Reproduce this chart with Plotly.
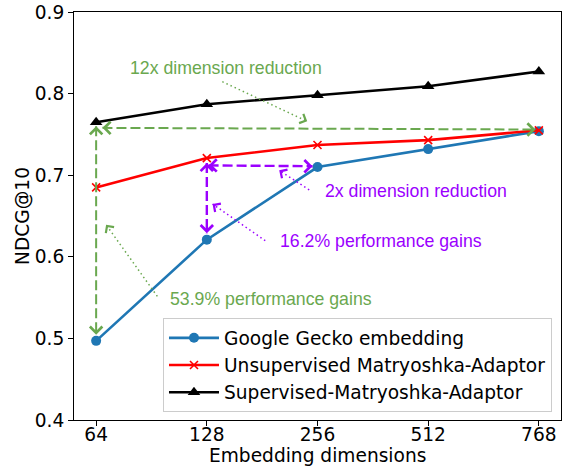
import plotly.graph_objects as go

dims = ["64", "128", "256", "512", "768"]
gecko = [0.497, 0.621, 0.710, 0.732, 0.754]
unsup = [0.685, 0.721, 0.737, 0.743, 0.755]
sup = [0.765, 0.787, 0.798, 0.809, 0.827]
yticks = [0.4, 0.5, 0.6, 0.7, 0.8, 0.9]

GREEN = "#6aa84f"
PURPLE = "#9b00ff"
FONT = "DejaVu Sans"
AFONT = "Liberation Sans"
FS = 18.6

xi = list(range(len(dims)))

fig = go.Figure()
fig.add_trace(go.Scatter(x=xi, y=gecko, mode="lines+markers", name="Google Gecko embedding",
                         line=dict(color="#1f77b4", width=2.6), legendgroup="a",
                         marker=dict(symbol="circle", size=10, color="#1f77b4")))
fig.add_trace(go.Scatter(x=xi, y=unsup, mode="lines+markers", name="Unsupervised Matryoshka-Adaptor",
                         line=dict(color="#ff0000", width=2.6), legendgroup="b",
                         marker=dict(symbol="x-thin", size=8, color="#ff0000",
                                     line=dict(color="#ff0000", width=1.6))))
fig.add_trace(go.Scatter(x=xi, y=sup, mode="lines+markers", name="Supervised-Matryoshka-Adaptor",
                         line=dict(color="#000000", width=2.6), legendgroup="c",
                         marker=dict(symbol="triangle-up", size=11, color="#000000")))

shapes = []
annotations = []


def dashed(x0, y0, x1, y1, color, width, dash):
    shapes.append(dict(type="line", xref="x", yref="y", x0=x0, y0=y0, x1=x1, y1=y1,
                       line=dict(color=color, width=width, dash=dash), layer="above"))


def head(x, y, ax, ay, color, width, size):
    annotations.append(dict(x=x, y=y, xref="x", yref="y", ax=ax, ay=ay, axref="pixel", ayref="pixel",
                            text="", showarrow=True, arrowhead=4, arrowcolor=color,
                            arrowwidth=width, arrowsize=size))


def dbl(x0, y0, x1, y1, color, width, dash, hx0, hy0, hx1, hy1, size):
    dashed(x0, y0, x1, y1, color, width, dash)
    head(x0, y0, hx0, hy0, color, width, size)
    head(x1, y1, hx1, hy1, color, width, size)


# green 12x horizontal and 53.9% vertical
dbl(0.057, 0.758, 3.97, 0.756, GREEN, 2, "10px,4px", 6, 0, -6, 0, 1.2)
dbl(0.0, 0.760, 0.0, 0.5045, GREEN, 2, "10px,4px", 0, 6, 0, -6, 1.2)
# purple 2x horizontal and 16.2% vertical
dbl(1.016, 0.712, 1.955, 0.711, PURPLE, 2.4, "10px,4px", 6, 0, -6, 0, 1.0)
dbl(1.0, 0.715, 1.0, 0.629, PURPLE, 2.4, "10px,4px", 0, 6, 0, -6, 1.0)


def dotted(x0, y0, x1, y1, color):
    dashed(x0, y0, x1, y1, color, 1.5, "1.5px,3px")
    dx = x0 - x1
    dy = y0 - y1
    px = dx * 110.8
    py = -dy * 816
    L = (px ** 2 + py ** 2) ** 0.5
    head(x1, y1, px / L * 5, py / L * 5, color, 1.5, 1.3)


dotted(1.14, 0.8146, 1.907, 0.766, GREEN)
dotted(1.925, 0.682, 1.654, 0.706, PURPLE)
dotted(1.528, 0.6197, 1.052, 0.6647, PURPLE)
dotted(0.553, 0.5515, 0.09, 0.6393, GREEN)


def label(x, y, t, color):
    annotations.append(dict(x=x, y=y, xref="x", yref="y", text=t, showarrow=False,
                            xanchor="left", yanchor="middle",
                            font=dict(family=AFONT, size=17.7, color=color)))


label(0.285, 0.8314, "12x dimension reduction", GREEN)
label(2.051, 0.6802, "2x dimension reduction", PURPLE)
label(1.639, 0.6189, "16.2% performance gains", PURPLE)
label(0.646, 0.5487, "53.9% performance gains", GREEN)

# axis titles as paper annotations for precise placement
annotations.append(dict(x=0.5, y=-0.087, xref="paper", yref="paper", text="Embedding dimensions",
                        showarrow=False, xanchor="center", yanchor="middle",
                        font=dict(family=FONT, size=FS, color="black")))
annotations.append(dict(x=-0.107, y=0.5, xref="paper", yref="paper", text="NDCG@10", textangle=-90,
                        showarrow=False, xanchor="center", yanchor="middle",
                        font=dict(family=FONT, size=FS, color="black")))

fig.update_layout(
    width=565, height=470,
    margin=dict(l=74, r=4, t=12, b=50, autoexpand=False),
    paper_bgcolor="white", plot_bgcolor="white",
    font=dict(family=FONT, size=FS, color="black"),
    shapes=shapes, annotations=annotations,
    showlegend=True,
    legend=dict(x=0.9815, y=0.019, xanchor="right", yanchor="bottom",
                bgcolor="rgba(255,255,255,0.85)", bordercolor="#cccccc", borderwidth=1,
                font=dict(family=FONT, size=FS), tracegroupgap=3, traceorder="normal",
                itemwidth=50),
)
fig.update_xaxes(range=[-0.2, 4.2], tickmode="array", tickvals=xi, ticktext=dims,
                 showgrid=False, zeroline=False, showline=True, linecolor="black", linewidth=1,
                 mirror=True, ticks="outside", ticklen=5, tickcolor="black", automargin=False,
                 ticklabelstandoff=-7)
fig.update_yaxes(range=[0.4, 0.9], tickmode="array", tickvals=yticks,
                 ticktext=[f"{v:.1f}" for v in yticks],
                 showgrid=False, zeroline=False, showline=True, linecolor="black", linewidth=1,
                 mirror=True, ticks="outside", ticklen=5, tickcolor="black", automargin=False)

fig.write_html("out.html")
